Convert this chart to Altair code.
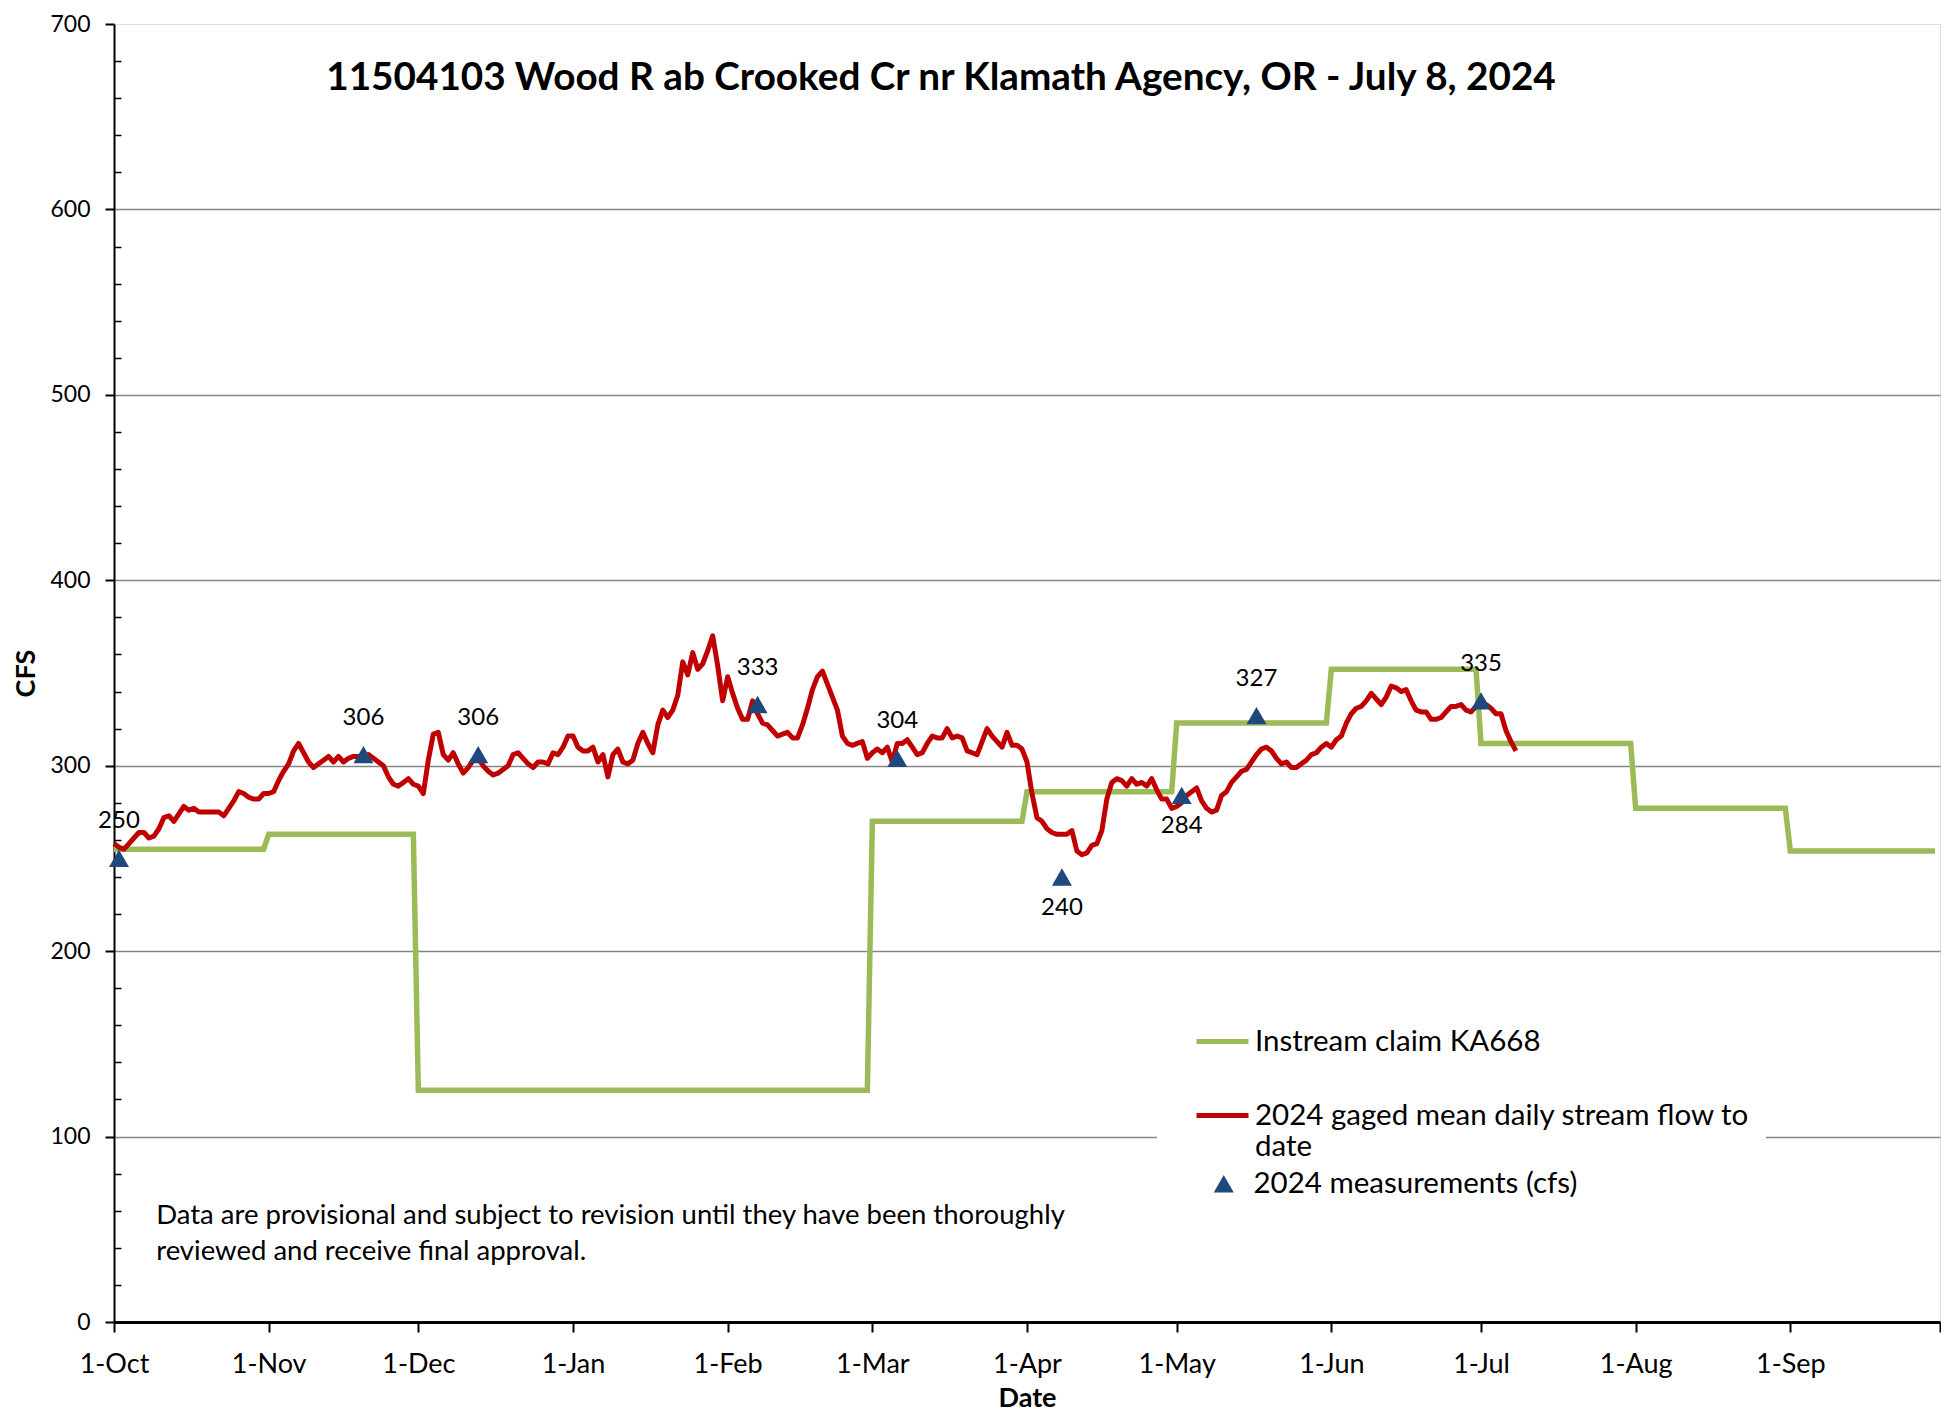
import altair as alt
import pandas as pd

# ---------------- data ----------------
FLOW_START = "2023-10-01"
flow_cfs = [
    258, 256, 255, 258, 261, 264, 264, 261, 262, 266,
    272, 273, 270, 274, 278, 276, 277, 275, 275, 275,
    275, 275, 273, 277, 281, 286, 285, 283, 282, 282,
    285, 285, 286, 292, 297, 301, 308, 312, 307, 302,
    299, 301, 303, 305, 302, 305, 302, 304, 305, 305,
    305, 306, 304, 302, 300, 294, 290, 289, 291, 293,
    290, 289, 285, 303, 317, 318, 306, 303, 307, 301,
    296, 299, 303, 304, 300, 297, 295, 296, 298, 300,
    306, 307, 304, 301, 299, 302, 302, 301, 307, 306,
    310, 316, 316, 310, 308, 308, 310, 302, 306, 294,
    306, 309, 302, 301, 303, 312, 318, 312, 307, 322,
    330, 326, 330, 338, 356, 349, 361, 352, 355, 362,
    370, 354, 335, 348, 339, 331, 325, 325, 335, 328,
    323, 322, 319, 316, 317, 318, 315, 315, 322, 331,
    341, 348, 351, 344, 337, 330, 316, 312, 311, 312,
    313, 304, 307, 309, 307, 310, 302, 312, 312, 314,
    310, 306, 307, 312, 316, 315, 315, 320, 315, 316,
    315, 308, 307, 306, 313, 320, 316, 313, 310, 318,
    311, 311, 309, 302, 285, 272, 270, 266, 264, 263,
    263, 263, 265, 254, 252, 253, 257, 258, 265, 282,
    291, 293, 292, 289, 293, 290, 291, 289, 293, 287,
    282, 282, 277, 278, 280, 284, 286, 288, 281, 277,
    275, 276, 284, 286, 291, 294, 297, 298, 302, 306,
    309, 310, 308, 304, 301, 302, 299, 299, 301, 303,
    306, 307, 310, 312, 310, 314, 316, 323, 328, 331,
    332, 335, 339, 336, 333, 337, 343, 342, 340, 341,
    335, 330, 329, 329, 325, 325, 326, 329, 332, 332,
    333, 330, 329, 332, 334, 333, 331, 328, 328, 319,
    313, 308,
]

claim_dates = [
    "2023-10-01", "2023-10-31", "2023-11-01", "2023-11-30",
    "2023-12-01", "2024-02-29", "2024-03-01", "2024-03-31",
    "2024-04-01", "2024-04-30", "2024-05-01", "2024-05-31",
    "2024-06-01", "2024-06-30", "2024-07-01", "2024-07-31",
    "2024-08-01", "2024-08-31", "2024-09-01", "2024-09-30",
]
claim_cfs = [255, 255, 263, 263, 125, 125, 270, 270, 286, 286,
             323, 323, 352, 352, 312, 312, 277, 277, 254, 254]

meas_dates = ["2023-10-02", "2023-11-20", "2023-12-13", "2024-02-07",
              "2024-03-06", "2024-04-08", "2024-05-02", "2024-05-17",
              "2024-07-01"]
meas_cfs = [250, 306, 306, 333, 304, 240, 284, 327, 335]
meas_label_side = ["above", "above", "above", "above", "above",
                   "below", "below", "above", "above"]

CLAIM_NAME = "Instream claim KA668"
FLOW_NAME = "2024 gaged mean daily stream flow to date"
MEAS_NAME = "2024 measurements (cfs)"
TITLE = "11504103 Wood R ab Crooked Cr nr Klamath Agency, OR - July 8, 2024"
NOTE = ("Data are provisional and subject to revision until they have been thoroughly\n"
        "reviewed and receive final approval.")

month_ticks = [(2023, 10), (2023, 11), (2023, 12), (2024, 1), (2024, 2),
               (2024, 3), (2024, 4), (2024, 5), (2024, 6), (2024, 7),
               (2024, 8), (2024, 9), (2024, 10)]
y_major = [0, 100, 200, 300, 400, 500, 600, 700]
y_minor = [20, 40, 60, 80, 120, 140, 160, 180, 220, 240, 260, 280,
           320, 340, 360, 380, 420, 440, 460, 480, 520, 540, 560, 580,
           620, 640, 660, 680]

# annotation anchor (data coordinates)
NOTE_DATE = "2023-10-09T11:00:00"
NOTE_CFS = 57

# ---------------- styles ----------------
GREEN = "#9BBB59"
RED = "#C00000"
BLUE = "#1F497D"
GRID = "#868686"
FONT = "Lato"

flow_df = pd.DataFrame({
    "date": pd.date_range(FLOW_START, periods=len(flow_cfs), freq="D").strftime("%Y-%m-%d"),
    "cfs": flow_cfs,
    "series": FLOW_NAME,
})
claim_df = pd.DataFrame({"date": claim_dates, "cfs": claim_cfs, "series": CLAIM_NAME})
meas_df = pd.DataFrame({
    "date": meas_dates,
    "cfs": meas_cfs,
    "label": [str(v) for v in meas_cfs],
    "side": meas_label_side,
    "series": MEAS_NAME,
})
note_df = pd.DataFrame({"date": [NOTE_DATE], "cfs": [NOTE_CFS], "text": [NOTE]})

x_scale = alt.Scale(
    type="utc",
    domain=[alt.DateTime(year=2023, month=10, date=1, utc=True),
            alt.DateTime(year=2024, month=10, date=1, utc=True)],
)
y_scale = alt.Scale(domain=[0, 700], nice=False)

x_axis = alt.Axis(
    values=[alt.DateTime(year=y, month=m, date=1, utc=True) for y, m in month_ticks],
    labelExpr="(utcyear(datum.value) == 2024 && utcmonth(datum.value) == 9) ? '' : utcFormat(datum.value, '%-d-%b')",
    grid=False,
    domainColor="black", domainWidth=3,
    tickColor="black", tickWidth=2, tickSize=10,
    labelFont=FONT, labelFontSize=27, labelColor="black", labelPadding=19,
    labelFlush=False, labelOverlap=False,
    title="Date", titleFont=FONT, titleFontSize=27, titleFontWeight="bold",
    titleColor="black", titlePadding=8,
)
x_enc = alt.X("date:T", scale=x_scale, axis=x_axis)

y_axis_main = alt.Axis(
    orient="left",
    values=y_major,
    grid=True, gridColor=GRID, gridWidth=1.5,
    gridOpacity={"condition": {"test": "datum.value <= 0 || datum.value >= 700", "value": 0}, "value": 1},
    domainColor="black", domainWidth=2,
    tickColor="black", tickWidth=2, tickSize=9,
    labelFont=FONT, labelFontSize=23, labelColor="black", labelPadding=15,
    title="CFS", titleFont=FONT, titleFontSize=27, titleFontWeight="bold",
    titleColor="black", titlePadding=9,
)
y_axis_minor = alt.Axis(
    orient="left", values=y_minor, offset=-7,
    grid=False, domain=False, labels=False,
    tickColor="black", tickWidth=1.5, tickSize=7,
)

legend_claim = alt.Legend(
    title=None, orient="none", legendX=1043, legendY=973,
    fillColor="white", padding=16,
    symbolType="stroke", symbolSize=2700, symbolStrokeWidth=5,
    symbolOffset=21, labelOffset=4,
    labelFont=FONT, labelFontSize=29.5, labelColor="black", labelLimit=800,
)
legend_flow = alt.Legend(
    title=None, orient="none", legendX=1043, legendY=1047,
    fillColor="white", padding=16,
    symbolType="stroke", symbolSize=2700, symbolStrokeWidth=5,
    symbolOffset=21, labelOffset=4,
    labelFont=FONT, labelFontSize=29.5, labelColor="black", labelLimit=800,
    labelExpr="datum.label == '2024 gaged mean daily stream flow to date' ? ['2024 gaged mean daily stream flow to', 'date'] : datum.label",
)
legend_meas = alt.Legend(
    title=None, orient="none", legendX=1095, legendY=1145,
    padding=0, symbolSize=400, symbolFillColor=BLUE, symbolStrokeWidth=0,
    symbolOffset=0, labelOffset=15,
    labelFont=FONT, labelFontSize=29.5, labelColor="black", labelLimit=800,
)

claim_line = alt.Chart(claim_df).mark_line(strokeWidth=5.5).encode(
    x=x_enc,
    y=alt.Y("cfs:Q", scale=y_scale, axis=y_axis_main),
    color=alt.Color("series:N", scale=alt.Scale(domain=[CLAIM_NAME], range=[GREEN]),
                    legend=legend_claim),
)

flow_line = alt.Chart(flow_df).mark_line(strokeWidth=5, strokeJoin="round").encode(
    x=x_enc,
    y=alt.Y("cfs:Q", scale=y_scale, axis=y_axis_minor, title=None),
    stroke=alt.Stroke("series:N", scale=alt.Scale(domain=[FLOW_NAME], range=[RED]),
                      legend=legend_flow),
)

meas_points = alt.Chart(meas_df).mark_point(filled=True, color=BLUE, size=400, opacity=1).encode(
    x=x_enc,
    y=alt.Y("cfs:Q", scale=y_scale, axis=None),
    shape=alt.Shape("series:N", scale=alt.Scale(domain=[MEAS_NAME], range=["triangle-up"]),
                    legend=legend_meas),
)

labels_above = alt.Chart(meas_df).transform_filter(alt.datum.side == "above").mark_text(
    dy=-37, font=FONT, fontSize=24, color="black"
).encode(x=x_enc, y=alt.Y("cfs:Q", scale=y_scale, axis=None), text="label:N")

labels_below = alt.Chart(meas_df).transform_filter(alt.datum.side == "below").mark_text(
    dy=31, font=FONT, fontSize=24, color="black"
).encode(x=x_enc, y=alt.Y("cfs:Q", scale=y_scale, axis=None), text="label:N")

note = alt.Chart(note_df).mark_text(
    align="left", baseline="middle", lineBreak="\n", lineHeight=36,
    font=FONT, fontSize=27.5, color="black"
).encode(x=x_enc, y=alt.Y("cfs:Q", scale=y_scale, axis=None), text="text:N")

chart = alt.layer(
    claim_line, flow_line, meas_points, labels_above, labels_below, note
).resolve_axis(y="independent").properties(
    width=1826, height=1298,
    autosize=alt.AutoSizeParams(type="none"),
    padding={"left": 106, "top": 16, "right": 1, "bottom": 93},
    title=alt.TitleParams(
        text=TITLE, font=FONT, fontSize=38.7, fontWeight="bold", color="black",
        anchor="middle", frame="group", offset=0, baseline="middle",
        dx=-86, dy=104,
    ),
).configure_view(stroke="black", strokeWidth=2).configure(background="white")

chart.save("out.html", embed_options={"renderer": "svg", "actions": False})
